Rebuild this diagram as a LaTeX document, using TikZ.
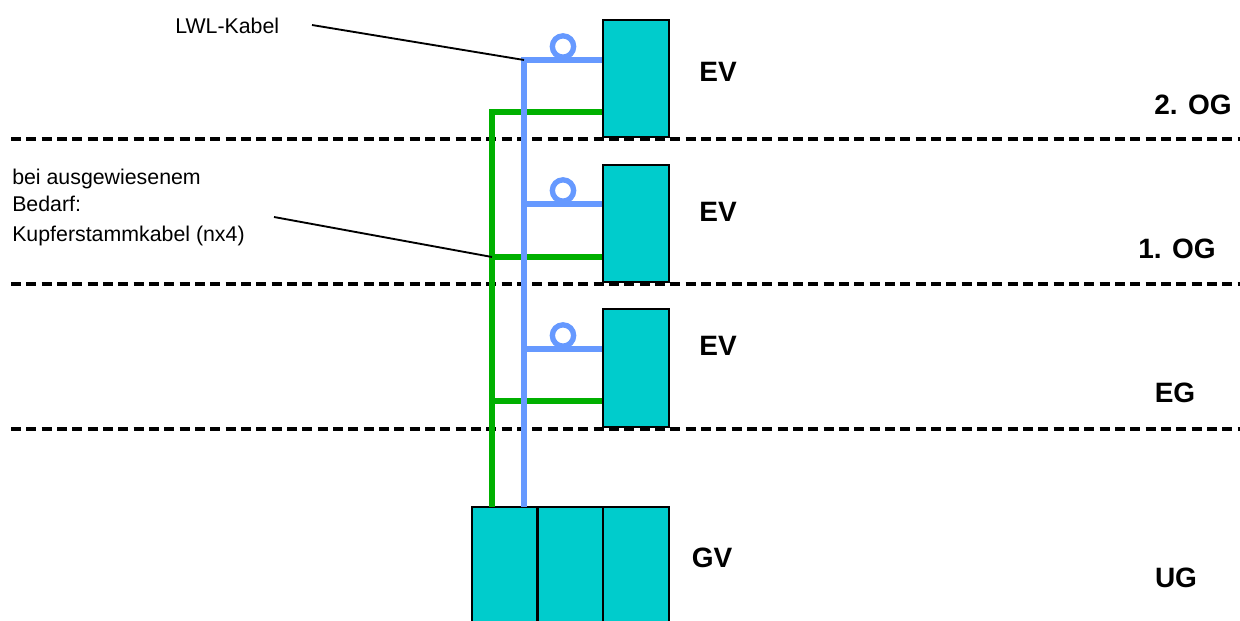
\documentclass[tikz,border=0pt]{standalone}
\usepackage{fontspec}
\setmainfont{Liberation Sans}
\definecolor{verteiler}{HTML}{00CCCC}
\definecolor{lwlblue}{HTML}{6699FF}
\definecolor{kupfer}{HTML}{00B000}
\tikzset{
  ev/.style={rectangle,fill=verteiler,draw=black,line width=1.7pt,minimum width=49.5pt,minimum height=88pt,inner sep=0pt},
  gv/.style={ev,minimum height=99pt},
  lwl/.style={draw=lwlblue,line width=3.8pt},
  cu/.style={draw=kupfer,line width=3.8pt},
  loopring/.style={circle,lwl,line width=4pt,minimum size=16pt,inner sep=0pt},
  floorline/.style={black,line width=2.7pt,dash pattern=on 7.5pt off 4pt},
  callout/.style={black,line width=1.4pt},
  label/.style={font=\fontsize{21}{24}\selectfont\bfseries,inner sep=0pt},
  note/.style={font=\fontsize{16}{18}\selectfont,inner sep=0pt,anchor=west},
}

\begin{document}
\begin{tikzpicture}[x=0.75pt,y=-0.75pt]
      \useasboundingbox (0,0) rectangle (1240,621);
      % floors
      \coordinate (w2) at (11,139);
      \coordinate (e2) at (1240,139);
      \coordinate (w1) at (11,284);
      \coordinate (e1) at (1240,284);
      \coordinate (w0) at (11,429);
      \coordinate (e0) at (1240,429);
      \draw [floorline] (w2) -- (e2);
      \draw [floorline] (w1) -- (e1);
      \draw [floorline] (w0) -- (e0);
      % risers
      \coordinate (lwl2) at (524,60);
      \coordinate (lwl1) at (524,204);
      \coordinate (lwl0) at (524,349);
      \coordinate (cu2) at (492,112);
      \coordinate (cu1) at (492,257);
      \coordinate (cu0) at (492,401);
      \coordinate (lwlfoot) at (524,507);
      \coordinate (cufoot) at (492,507);
      \node [ev] (ev2) at (636,78.5) {};
      \node [ev] (ev1) at (636,223.5) {};
      \node [ev] (ev0) at (636,368) {};
      \node [gv] (gv1) at (505,573) {};
      \node [gv] (gv2) at (570.5,573) {};
      \node [gv] (gv3) at (636,573) {};
      \draw [cu] (cufoot) -- (cu2) -- (cu2 -| ev2.west);
      \draw [cu] (cu1) -- (cu1 -| ev1.west);
      \draw [cu] (cu0) -- (cu0 -| ev0.west);
      \draw [lwl] (lwlfoot) -- (lwl2) -- (lwl2 -| ev2.west);
      \draw [lwl] (lwl1) -- (lwl1 -| ev1.west);
      \draw [lwl] (lwl0) -- (lwl0 -| ev0.west);
      % loops
      \node [loopring] (loop2) at (563,46.5) {};
      \node [loopring] (loop1) at (563,190.5) {};
      \node [loopring] (loop0) at (563,335.5) {};
      % labels
      \node [label] (lev2) at (718,72) {EV};
      \node [label] (lev1) at (718,212) {EV};
      \node [label] (lev0) at (718,346) {EV};
      \node [label] (lgv) at (712,558) {GV};
      \node [label] (og2) at (1193,105) {2. OG};
      \node [label] (og1) at (1177,249) {1. OG};
      \node [label] (eg) at (1175,393) {EG};
      \node [label] (ug) at (1176,578) {UG};
      % notes
      \node [note] (nlwl) at (175,26) {LWL-Kabel};
      \node [note] (nbei) at (12,179) {bei ausgewiesenem};
      \node [note] (nbed) at (12,204) {Bedarf:};
      \node [note] (nkup) at (12,236) {Kupferstammkabel (nx4)};
      \coordinate (c1) at (312,25);
      \coordinate (c2) at (274,217);
      \draw [callout] (c1) -- (lwl2);
      \draw [callout] (c2) -- (cu1);
    \end{tikzpicture}
\end{document}
